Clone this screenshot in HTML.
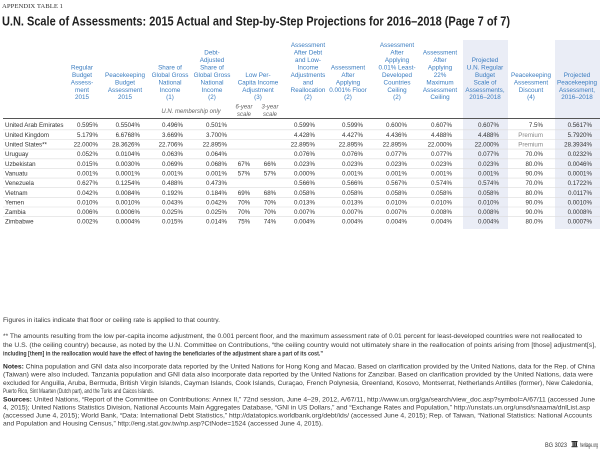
<!DOCTYPE html>
<html><head><meta charset="utf-8"><style>
html,body{margin:0;padding:0;background:#fff;}
svg{display:block;}
text{font-family:"Liberation Sans",sans-serif;}
.h{fill:#3a7cc0;font-size:6.3px;text-anchor:middle;}
.d{fill:#333;font-size:6.2px;text-anchor:end;}
.c{fill:#333;font-size:6.2px;}
.m{fill:#333;font-size:6.2px;text-anchor:middle;}
.s{fill:#666;font-size:6px;font-style:italic;text-anchor:middle;}
.f{fill:#3a3a3a;font-size:6px;}
.p{fill:#888;}
</style></head><body>
<svg width="600" height="451" viewBox="0 0 600 451" xmlns="http://www.w3.org/2000/svg">
<rect x="0" y="0" width="600" height="451" fill="#fff"/>
<text x="2" y="8" font-family="Liberation Serif" font-size="6.6" fill="#333" textLength="61" lengthAdjust="spacingAndGlyphs" style="font-family:'Liberation Serif',serif">APPENDIX TABLE 1</text>
<text x="2" y="25.5" font-size="12.6" font-weight="bold" fill="#222" textLength="508" lengthAdjust="spacingAndGlyphs">U.N. Scale of Assessments: 2015 Actual and Step-by-Step Projections for 2016–2018 (Page 7 of 7)</text>

<rect x="463" y="40" width="45" height="189" fill="#eaedf6"/>
<rect x="555" y="40" width="45" height="189" fill="#eaedf6"/>

<!-- headers -->
<g class="hdr">
<text class="h" x="82" y="69.5">Regular</text><text class="h" x="82" y="76.9">Budget</text><text class="h" x="82" y="84.4">Assess-</text><text class="h" x="82" y="91.8">ment</text><text class="h" x="82" y="99.2">2015</text>
<text class="h" x="125" y="76.9">Peacekeeping</text><text class="h" x="125" y="84.4">Budget</text><text class="h" x="125" y="91.8">Assessment</text><text class="h" x="125" y="99.2">2015</text>
<text class="h" x="170" y="69.5">Share of</text><text class="h" x="170" y="76.9">Global Gross</text><text class="h" x="170" y="84.4">National</text><text class="h" x="170" y="91.8">Income</text><text class="h" x="170" y="99.2">(1)</text>
<text class="h" x="212" y="54.6">Debt-</text><text class="h" x="212" y="62.1">Adjusted</text><text class="h" x="212" y="69.5">Share of</text><text class="h" x="212" y="76.9">Global Gross</text><text class="h" x="212" y="84.4">National</text><text class="h" x="212" y="91.8">Income</text><text class="h" x="212" y="99.2">(2)</text>
<text class="h" x="258" y="76.9">Low Per-</text><text class="h" x="258" y="84.4">Capita Income</text><text class="h" x="258" y="91.8">Adjustment</text><text class="h" x="258" y="99.2">(3)</text>
<text class="h" x="308" y="47.2">Assessment</text><text class="h" x="308" y="54.6">After Debt</text><text class="h" x="308" y="62.1">and Low-</text><text class="h" x="308" y="69.5">Income</text><text class="h" x="308" y="76.9">Adjustments</text><text class="h" x="308" y="84.4">and</text><text class="h" x="308" y="91.8">Reallocation</text><text class="h" x="308" y="99.2">(2)</text>
<text class="h" x="348" y="69.5">Assessment</text><text class="h" x="348" y="76.9">After</text><text class="h" x="348" y="84.4">Applying</text><text class="h" x="348" y="91.8">0.001% Floor</text><text class="h" x="348" y="99.2">(2)</text>
<text class="h" x="397" y="47.2">Assessment</text><text class="h" x="397" y="54.6">After</text><text class="h" x="397" y="62.1">Applying</text><text class="h" x="397" y="69.5">0.01% Least-</text><text class="h" x="397" y="76.9">Developed</text><text class="h" x="397" y="84.4">Countries</text><text class="h" x="397" y="91.8">Ceiling</text><text class="h" x="397" y="99.2">(2)</text>
<text class="h" x="440" y="54.6">Assessment</text><text class="h" x="440" y="62.1">After</text><text class="h" x="440" y="69.5">Applying</text><text class="h" x="440" y="76.9">22%</text><text class="h" x="440" y="84.4">Maximum</text><text class="h" x="440" y="91.8">Assessment</text><text class="h" x="440" y="99.2">Ceiling</text>
<text class="h" x="485" y="62.1">Projected</text><text class="h" x="485" y="69.5">U.N. Regular</text><text class="h" x="485" y="76.9">Budget</text><text class="h" x="485" y="84.4">Scale of</text><text class="h" x="485" y="91.8">Assessments,</text><text class="h" x="485" y="99.2">2016–2018</text>
<text class="h" x="531" y="76.9">Peacekeeping</text><text class="h" x="531" y="84.4">Assessment</text><text class="h" x="531" y="91.8">Discount</text><text class="h" x="531" y="99.2">(4)</text>
<text class="h" x="577" y="76.9">Projected</text><text class="h" x="577" y="84.4">Peacekeeping</text><text class="h" x="577" y="91.8">Assessment,</text><text class="h" x="577" y="99.2">2016–2018</text>
</g>
<text class="s" x="191" y="113">U.N. membership only</text>
<text class="s" x="244" y="108.5">6-year</text><text class="s" x="244" y="116">scale</text>
<text class="s" x="270" y="108.5">3-year</text><text class="s" x="270" y="116">scale</text>

<line x1="3" y1="118.5" x2="600" y2="118.5" stroke="#555" stroke-width="0.9"/>

<g stroke="#dcdcdc" stroke-width="0.6">
<line x1="3" y1="129.8" x2="600" y2="129.8"/><line x1="3" y1="139.5" x2="600" y2="139.5"/><line x1="3" y1="149.1" x2="600" y2="149.1"/><line x1="3" y1="158.8" x2="600" y2="158.8"/><line x1="3" y1="168.4" x2="600" y2="168.4"/><line x1="3" y1="178.1" x2="600" y2="178.1"/><line x1="3" y1="187.7" x2="600" y2="187.7"/><line x1="3" y1="197.4" x2="600" y2="197.4"/><line x1="3" y1="207" x2="600" y2="207"/><line x1="3" y1="216.7" x2="600" y2="216.7"/>
</g>

<!-- rows -->
<g>
<text class="c" x="5" y="127.2">United Arab Emirates</text><text class="d" x="98" y="127.2">0.595%</text><text class="d" x="140" y="127.2">0.5504%</text><text class="d" x="183" y="127.2">0.496%</text><text class="d" x="227" y="127.2">0.501%</text><text class="d" x="315" y="127.2">0.599%</text><text class="d" x="363" y="127.2">0.599%</text><text class="d" x="407" y="127.2">0.600%</text><text class="d" x="452" y="127.2">0.607%</text><text class="d" x="499" y="127.2">0.607%</text><text class="d" x="543" y="127.2">7.5%</text><text class="d" x="592" y="127.2">0.5617%</text>

<text class="c" x="5" y="136.9">United Kingdom</text><text class="d" x="98" y="136.9">5.179%</text><text class="d" x="140" y="136.9">6.6768%</text><text class="d" x="183" y="136.9">3.669%</text><text class="d" x="227" y="136.9">3.700%</text><text class="d" x="315" y="136.9">4.428%</text><text class="d" x="363" y="136.9">4.427%</text><text class="d" x="407" y="136.9">4.436%</text><text class="d" x="452" y="136.9">4.488%</text><text class="d" x="499" y="136.9">4.488%</text><text class="d p" x="543" y="136.9">Premium</text><text class="d" x="592" y="136.9">5.7920%</text>

<text class="c" x="5" y="146.5">United States**</text><text class="d" x="98" y="146.5">22.000%</text><text class="d" x="140" y="146.5">28.3626%</text><text class="d" x="183" y="146.5">22.706%</text><text class="d" x="227" y="146.5">22.895%</text><text class="d" x="315" y="146.5">22.895%</text><text class="d" x="363" y="146.5">22.895%</text><text class="d" x="407" y="146.5">22.895%</text><text class="d" x="452" y="146.5">22.000%</text><text class="d" x="499" y="146.5">22.000%</text><text class="d p" x="543" y="146.5">Premium</text><text class="d" x="592" y="146.5">28.3934%</text>

<text class="c" x="5" y="156.2">Uruguay</text><text class="d" x="98" y="156.2">0.052%</text><text class="d" x="140" y="156.2">0.0104%</text><text class="d" x="183" y="156.2">0.063%</text><text class="d" x="227" y="156.2">0.064%</text><text class="d" x="315" y="156.2">0.076%</text><text class="d" x="363" y="156.2">0.076%</text><text class="d" x="407" y="156.2">0.077%</text><text class="d" x="452" y="156.2">0.077%</text><text class="d" x="499" y="156.2">0.077%</text><text class="d" x="543" y="156.2">70.0%</text><text class="d" x="592" y="156.2">0.0232%</text>

<text class="c" x="5" y="165.8">Uzbekistan</text><text class="d" x="98" y="165.8">0.015%</text><text class="d" x="140" y="165.8">0.0030%</text><text class="d" x="183" y="165.8">0.069%</text><text class="d" x="227" y="165.8">0.068%</text><text class="m" x="244" y="165.8">67%</text><text class="m" x="270" y="165.8">66%</text><text class="d" x="315" y="165.8">0.023%</text><text class="d" x="363" y="165.8">0.023%</text><text class="d" x="407" y="165.8">0.023%</text><text class="d" x="452" y="165.8">0.023%</text><text class="d" x="499" y="165.8">0.023%</text><text class="d" x="543" y="165.8">80.0%</text><text class="d" x="592" y="165.8">0.0046%</text>

<text class="c" x="5" y="175.5">Vanuatu</text><text class="d" x="98" y="175.5">0.001%</text><text class="d" x="140" y="175.5">0.0001%</text><text class="d" x="183" y="175.5">0.001%</text><text class="d" x="227" y="175.5">0.001%</text><text class="m" x="244" y="175.5">57%</text><text class="m" x="270" y="175.5">57%</text><text class="d" x="315" y="175.5">0.000%</text><text class="d" x="363" y="175.5">0.001%</text><text class="d" x="407" y="175.5">0.001%</text><text class="d" x="452" y="175.5">0.001%</text><text class="d" x="499" y="175.5">0.001%</text><text class="d" x="543" y="175.5">90.0%</text><text class="d" x="592" y="175.5">0.0001%</text>

<text class="c" x="5" y="185.1">Venezuela</text><text class="d" x="98" y="185.1">0.627%</text><text class="d" x="140" y="185.1">0.1254%</text><text class="d" x="183" y="185.1">0.488%</text><text class="d" x="227" y="185.1">0.473%</text><text class="d" x="315" y="185.1">0.566%</text><text class="d" x="363" y="185.1">0.566%</text><text class="d" x="407" y="185.1">0.567%</text><text class="d" x="452" y="185.1">0.574%</text><text class="d" x="499" y="185.1">0.574%</text><text class="d" x="543" y="185.1">70.0%</text><text class="d" x="592" y="185.1">0.1722%</text>

<text class="c" x="5" y="194.8">Vietnam</text><text class="d" x="98" y="194.8">0.042%</text><text class="d" x="140" y="194.8">0.0084%</text><text class="d" x="183" y="194.8">0.192%</text><text class="d" x="227" y="194.8">0.184%</text><text class="m" x="244" y="194.8">69%</text><text class="m" x="270" y="194.8">68%</text><text class="d" x="315" y="194.8">0.058%</text><text class="d" x="363" y="194.8">0.058%</text><text class="d" x="407" y="194.8">0.058%</text><text class="d" x="452" y="194.8">0.058%</text><text class="d" x="499" y="194.8">0.058%</text><text class="d" x="543" y="194.8">80.0%</text><text class="d" x="592" y="194.8">0.0117%</text>

<text class="c" x="5" y="204.4">Yemen</text><text class="d" x="98" y="204.4">0.010%</text><text class="d" x="140" y="204.4">0.0010%</text><text class="d" x="183" y="204.4">0.043%</text><text class="d" x="227" y="204.4">0.042%</text><text class="m" x="244" y="204.4">70%</text><text class="m" x="270" y="204.4">70%</text><text class="d" x="315" y="204.4">0.013%</text><text class="d" x="363" y="204.4">0.013%</text><text class="d" x="407" y="204.4">0.010%</text><text class="d" x="452" y="204.4">0.010%</text><text class="d" x="499" y="204.4">0.010%</text><text class="d" x="543" y="204.4">90.0%</text><text class="d" x="592" y="204.4">0.0010%</text>

<text class="c" x="5" y="214.1">Zambia</text><text class="d" x="98" y="214.1">0.006%</text><text class="d" x="140" y="214.1">0.0006%</text><text class="d" x="183" y="214.1">0.025%</text><text class="d" x="227" y="214.1">0.025%</text><text class="m" x="244" y="214.1">70%</text><text class="m" x="270" y="214.1">70%</text><text class="d" x="315" y="214.1">0.007%</text><text class="d" x="363" y="214.1">0.007%</text><text class="d" x="407" y="214.1">0.007%</text><text class="d" x="452" y="214.1">0.008%</text><text class="d" x="499" y="214.1">0.008%</text><text class="d" x="543" y="214.1">90.0%</text><text class="d" x="592" y="214.1">0.0008%</text>

<text class="c" x="5" y="223.7">Zimbabwe</text><text class="d" x="98" y="223.7">0.002%</text><text class="d" x="140" y="223.7">0.0004%</text><text class="d" x="183" y="223.7">0.015%</text><text class="d" x="227" y="223.7">0.014%</text><text class="m" x="244" y="223.7">75%</text><text class="m" x="270" y="223.7">74%</text><text class="d" x="315" y="223.7">0.004%</text><text class="d" x="363" y="223.7">0.004%</text><text class="d" x="407" y="223.7">0.004%</text><text class="d" x="452" y="223.7">0.004%</text><text class="d" x="499" y="223.7">0.004%</text><text class="d" x="543" y="223.7">80.0%</text><text class="d" x="592" y="223.7">0.0007%</text>
</g>

<!-- footnotes -->
<text class="f" x="3" y="322" textLength="217" lengthAdjust="spacingAndGlyphs">Figures in italics indicate that floor or ceiling rate is applied to that country.</text>
<text class="f" x="3" y="338" textLength="579" lengthAdjust="spacingAndGlyphs">** The amounts resulting from the low per-capita income adjustment, the 0.001 percent floor, and the maximum assessment rate of 0.01 percent for least-developed countries were not reallocated to</text>
<text class="f" x="3" y="346.8" textLength="593" lengthAdjust="spacingAndGlyphs">the U.S. (the ceiling country) because, as noted by the U.N. Committee on Contributions, “the ceiling country would not ultimately share in the reallocation of points arising from [those] adjustment[s],</text>
<text class="f" x="3" y="355.3" textLength="320" lengthAdjust="spacingAndGlyphs" font-weight="bold" fill="#222">including [them] in the reallocation would have the effect of having the beneficiaries of the adjustment share a part of its cost.”</text>

<text class="f" x="3" y="368.7" textLength="592" lengthAdjust="spacingAndGlyphs"><tspan font-weight="bold" fill="#222">Notes:</tspan> China population and GNI data also incorporate data reported by the United Nations for Hong Kong and Macao. Based on clarification provided by the United Nations, data for the Rep. of China</text>
<text class="f" x="3" y="376.6" textLength="590" lengthAdjust="spacingAndGlyphs">(Taiwan) were also included. Tanzania population and GNI data also incorporate data reported by the United Nations for Zanzibar. Based on clarification provided by the United Nations, data were</text>
<text class="f" x="3" y="384.8" textLength="590" lengthAdjust="spacingAndGlyphs">excluded for Anguilla, Aruba, Bermuda, British Virgin Islands, Cayman Islands, Cook Islands, Curaçao, French Polynesia, Greenland, Kosovo, Montserrat, Netherlands Antilles (former), New Caledonia,</text>
<text class="f" x="3" y="393" textLength="151" lengthAdjust="spacingAndGlyphs">Puerto Rico, Sint Maarten (Dutch part), and the Turks and Caicos Islands.</text>
<text class="f" x="3" y="401.3" textLength="592" lengthAdjust="spacingAndGlyphs"><tspan font-weight="bold" fill="#222">Sources:</tspan> United Nations, “Report of the Committee on Contributions: Annex II,” 72nd session, June 4–29, 2012, A/67/11, http://www.un.org/ga/search/view_doc.asp?symbol=A/67/11 (accessed June</text>
<text class="f" x="3" y="409.3" textLength="587" lengthAdjust="spacingAndGlyphs">4, 2015); United Nations Statistics Division, National Accounts Main Aggregates Database, “GNI in US Dollars,” and “Exchange Rates and Population,” http://unstats.un.org/unsd/snaama/dnlList.asp</text>
<text class="f" x="3" y="417.3" textLength="589" lengthAdjust="spacingAndGlyphs">(accessed June 4, 2015); World Bank, “Data: International Debt Statistics,” http://datatopics.worldbank.org/debt/ids/ (accessed June 4, 2015); Rep. of Taiwan, “National Statistics: National Accounts</text>
<text class="f" x="3" y="425.3" textLength="320" lengthAdjust="spacingAndGlyphs">and Population and Housing Census,” http://eng.stat.gov.tw/np.asp?CtNode=1524 (accessed June 4, 2015).</text>

<!-- footer -->
<text x="545" y="447" font-size="6.3" fill="#333" textLength="22" lengthAdjust="spacingAndGlyphs">BG 3023</text>
<g fill="#222">
<rect x="571.5" y="441" width="6" height="1.2"/>
<rect x="572.5" y="442.2" width="1.2" height="4"/>
<rect x="574.2" y="442.2" width="1.2" height="4"/>
<rect x="575.8" y="442.2" width="1.2" height="4"/>
<rect x="571.5" y="446.2" width="6" height="1"/>
</g>
<text x="580" y="447" font-size="6.3" fill="#333" textLength="18" lengthAdjust="spacingAndGlyphs">heritage.org</text>
</svg>
</body></html>
